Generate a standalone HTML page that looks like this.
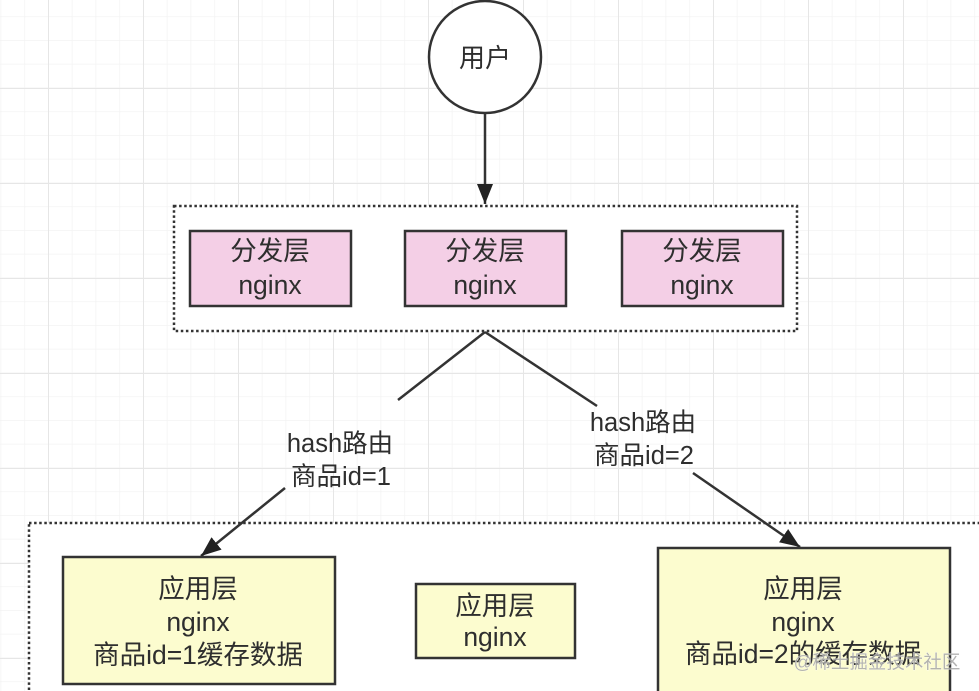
<!DOCTYPE html>
<html>
<head>
<meta charset="utf-8">
<style>
html,body{margin:0;padding:0;background:#fff;}
svg{display:block;}
text{font-family:"Liberation Sans","Noto Sans CJK SC",sans-serif;fill:#2e2e2e;}
</style>
</head>
<body>
<svg width="979" height="691" viewBox="0 0 979 691" xmlns="http://www.w3.org/2000/svg">
<defs>
  <pattern id="minor" patternUnits="userSpaceOnUse" x="0.5" y="16.25" width="23.75" height="23.75">
    <path d="M0 0 H23.75 M0 0 V23.75" stroke="#f3f3f3" stroke-width="1.5" fill="none"/>
  </pattern>
  <pattern id="major" patternUnits="userSpaceOnUse" x="48" y="88" width="95" height="95">
    <path d="M0 0 H95 M0 0 V95" stroke="#e6e6e6" stroke-width="2" fill="none"/>
  </pattern>
  <marker id="ah" markerUnits="userSpaceOnUse" markerWidth="22" markerHeight="16" refX="20" refY="8" orient="auto">
    <path d="M0 0 L20 8 L0 16 Z" fill="#222"/>
  </marker>
</defs>
<rect width="979" height="691" fill="#fff"/>
<rect width="979" height="691" fill="url(#minor)"/>
<rect width="979" height="691" fill="url(#major)"/>

<!-- top container -->
<rect x="174" y="206" width="623" height="125" fill="#fff" stroke="#333" stroke-width="2.5" stroke-dasharray="2.5 2.6"/>
<!-- bottom container -->
<rect x="29" y="523" width="980" height="200" fill="#fff" stroke="#333" stroke-width="2.5" stroke-dasharray="2.5 2.6"/>

<!-- user circle -->
<circle cx="485" cy="57" r="56" fill="#fff" stroke="#333" stroke-width="2.5"/>
<text x="485" y="58" font-size="26" text-anchor="middle" dominant-baseline="central">用户</text>
<line x1="485" y1="113" x2="485" y2="204" stroke="#333" stroke-width="2.5" marker-end="url(#ah)"/>

<!-- pink boxes -->
<g stroke="#333" stroke-width="2.5" fill="#f4cfe6">
  <rect x="190" y="231" width="161" height="75"/>
  <rect x="405" y="231" width="161" height="75"/>
  <rect x="622" y="231" width="161" height="75"/>
</g>
<g font-size="26.5" text-anchor="middle" dominant-baseline="central">
  <text x="270" y="251">分发层</text>
  <text x="270" y="285">nginx</text>
  <text x="485" y="251">分发层</text>
  <text x="485" y="285">nginx</text>
  <text x="702" y="251">分发层</text>
  <text x="702" y="285">nginx</text>
</g>

<!-- connectors -->
<line x1="485" y1="332" x2="398" y2="400" stroke="#333" stroke-width="2.5"/>
<line x1="285" y1="488" x2="201" y2="556" stroke="#333" stroke-width="2.5" marker-end="url(#ah)"/>
<line x1="485" y1="332" x2="597" y2="406" stroke="#333" stroke-width="2.5"/>
<line x1="693" y1="473" x2="800" y2="547" stroke="#333" stroke-width="2.5" marker-end="url(#ah)"/>

<g font-size="25.5" text-anchor="middle" dominant-baseline="central">
  <text x="340" y="444">hash路由</text>
  <text x="341" y="477">商品id=1</text>
  <text x="643" y="423">hash路由</text>
  <text x="644" y="456">商品id=2</text>
</g>

<!-- yellow boxes -->
<g stroke="#333" stroke-width="2.5" fill="#fcfccf">
  <rect x="63" y="557" width="272" height="127"/>
  <rect x="416" y="584" width="159" height="74"/>
  <rect x="658" y="548" width="292" height="170"/>
</g>
<g font-size="26.5" text-anchor="middle" dominant-baseline="central">
  <text x="198" y="589">应用层</text>
  <text x="198" y="622">nginx</text>
  <text x="198" y="655">商品id=1缓存数据</text>
  <text x="495" y="606">应用层</text>
  <text x="495" y="637">nginx</text>
  <text x="803" y="589">应用层</text>
  <text x="803" y="622">nginx</text>
  <text x="803" y="654">商品id=2的缓存数据</text>
</g>

<!-- watermark -->
<text x="877" y="662" font-size="18.5" text-anchor="middle" dominant-baseline="central" style="fill:#a8a8a8;stroke:#fff;stroke-width:0.6;paint-order:stroke" opacity="0.85">@稀土掘金技术社区</text>
</svg>
</body>
</html>
